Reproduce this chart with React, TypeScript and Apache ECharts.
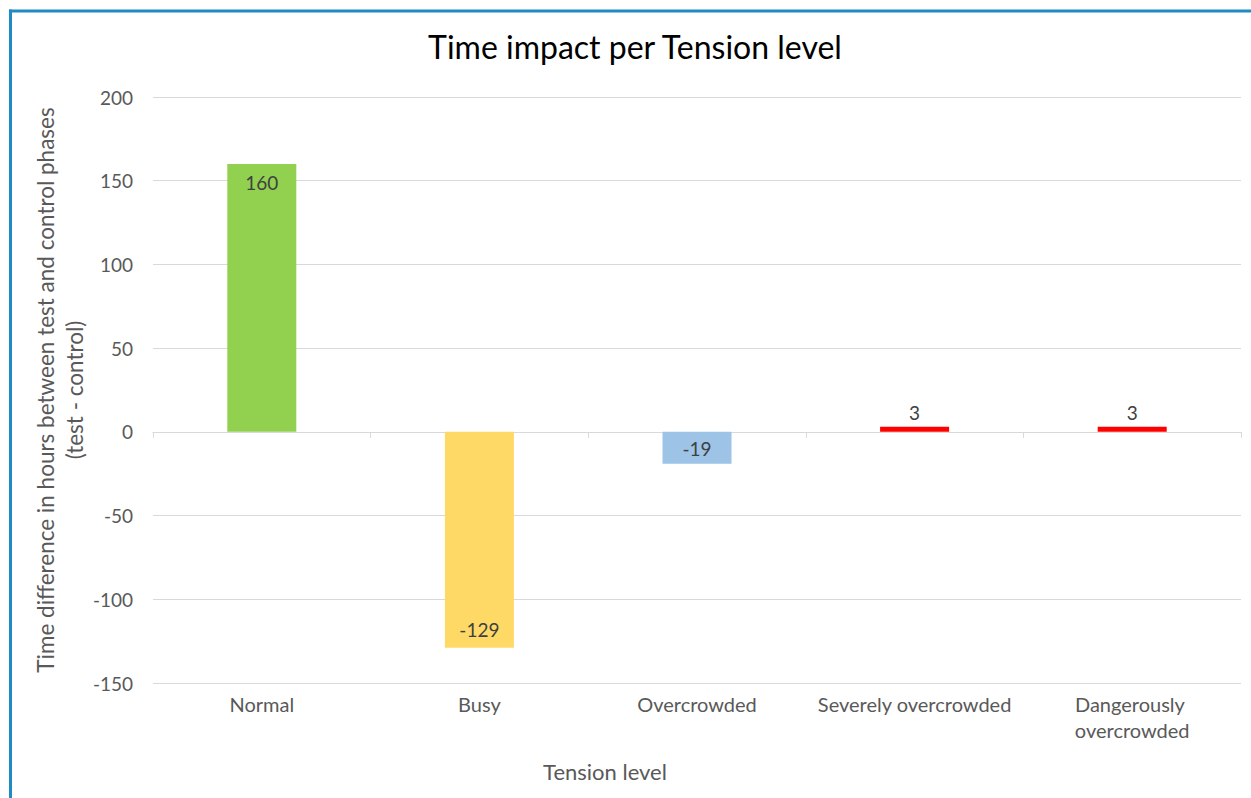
import React, { useEffect, useRef } from "react";
import * as echarts from "echarts";

const categories = ["Normal", "Busy", "Overcrowded", "Severely overcrowded", "Dangerously overcrowded"];
const values = [160, -129, -19, 3, 3];
const barColors = ["#92D050", "#FFD966", "#9DC3E6", "#FF0000", "#FF0000"];
const yTicks = { min: -150, max: 200, interval: 50 };

const FONT = "Lato";
const GREY = "#595959";

export default function App() {
  const ref = useRef<HTMLDivElement>(null);
  useEffect(() => {
    if (!ref.current) return;
    const chart = echarts.init(ref.current, null, { renderer: "svg" });
    const option: any = {
      animation: false,
      backgroundColor: "#ffffff",
      textStyle: { fontFamily: FONT },
      grid: { left: 153, right: 10, top: 97, bottom: 115, containLabel: false },
      xAxis: [
        {
          type: "category",
          data: categories,
          axisLine: { show: true, onZero: true, lineStyle: { color: "#d9d9d9", width: 1 } },
          axisTick: { show: true, length: 6, lineStyle: { color: "#d9d9d9" } },
          axisLabel: { show: false },
          splitLine: { show: false },
        },
        {
          type: "category",
          data: categories,
          position: "bottom",
          axisLine: { show: false, onZero: false },
          axisTick: { show: false },
          axisLabel: {
            show: true,
            color: GREY,
            fontFamily: FONT,
            fontSize: 20,
            margin: 8,
            width: 205,
            overflow: "break",
            lineHeight: 26,
            interval: 0,
          },
        },
      ],
      yAxis: {
        type: "value",
        min: yTicks.min,
        max: yTicks.max,
        interval: yTicks.interval,
        axisLine: { show: false },
        axisTick: { show: false },
        axisLabel: { color: GREY, fontFamily: FONT, fontSize: 19, margin: 20 },
        splitLine: { lineStyle: { color: "#d9d9d9", width: 1 } },
        name: "Time difference in hours between test and control phases\n(test - control)",
        nameLocation: "middle",
        nameGap: 64,
        nameMoveOverlap: false,
        nameTextStyle: { color: GREY, fontFamily: FONT, fontSize: 22.5, lineHeight: 29 },
      },
      series: [
        {
          type: "bar",
          xAxisIndex: 0,
          barWidth: 69,
          data: values.map((v, i) => ({
            value: v,
            itemStyle: { color: barColors[i] },
            label: {
              show: true,
              position: Math.abs(v) < 10 ? "top" : v >= 0 ? "insideTop" : "insideBottom",
              distance: Math.abs(v) < 10 ? 5 : Math.abs(v) < 50 ? 6 : 9,
            },
          })),
          label: { show: true, color: "#404040", fontFamily: FONT, fontSize: 19 },
        },
      ],
      graphic: [
        {
          type: "text",
          x: 635,
          y: 46,
          style: {
            text: "Time impact per Tension level",
            fill: "#000000",
            font: `32px ${FONT}`,
            textAlign: "center",
            textVerticalAlign: "middle",
          },
        },
        {
          type: "text",
          x: 605,
          y: 771,
          style: {
            text: "Tension level",
            fill: GREY,
            font: `22px ${FONT}`,
            textAlign: "center",
            textVerticalAlign: "middle",
          },
        },
        {
          type: "line",
          shape: { x1: 10.5, y1: 9.5, x2: 10.5, y2: 798 },
          style: { stroke: "#1E8BC3", lineWidth: 3 },
        },
        {
          type: "line",
          shape: { x1: 9, y1: 11, x2: 1251, y2: 11 },
          style: { stroke: "#1E8BC3", lineWidth: 3 },
        },
      ],
    };
    chart.setOption(option);
    return () => chart.dispose();
  }, []);
  return (
    <div
      ref={ref}
      style={{ position: "fixed", left: 0, top: 0, width: 1251, height: 798 }}
    />
  );
}
